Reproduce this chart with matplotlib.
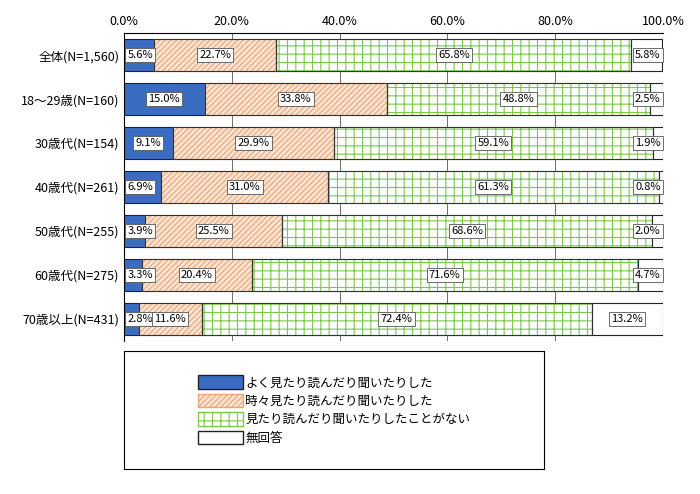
import matplotlib
matplotlib.use("Agg")
import matplotlib.pyplot as plt
from matplotlib.patches import Patch

plt.rcParams["font.family"] = ["Noto Sans CJK JP", "DejaVu Sans"]
plt.rcParams["hatch.linewidth"] = 0.8

groups = ["全体(N=1,560)", "18～29歳(N=160)", "30歳代(N=154)", "40歳代(N=261)",
          "50歳代(N=255)", "60歳代(N=275)", "70歳以上(N=431)"]
often = [5.6, 15.0, 9.1, 6.9, 3.9, 3.3, 2.8]
sometimes = [22.7, 33.8, 29.9, 31.0, 25.5, 20.4, 11.6]
never = [65.8, 48.8, 59.1, 61.3, 68.6, 71.6, 72.4]
no_answer = [5.8, 2.5, 1.9, 0.8, 2.0, 4.7, 13.2]
series_names = ["よく見たり読んだり聞いたりした", "時々見たり読んだり聞いたりした",
                "見たり読んだり聞いたりしたことがない", "無回答"]

styles = [
    dict(facecolor="#3a6cc4", edgecolor="#222222", hatch=None),
    dict(facecolor="#fbe3cf", edgecolor="#e8a67c", hatch="//////"),
    dict(facecolor="white", edgecolor="#7cc94a", hatch="++"),
    dict(facecolor="white", edgecolor="#222222", hatch=None),
]

fig = plt.figure(figsize=(7, 4.94), dpi=100)
ax = fig.add_axes([0.177, 0.31, 0.77, 0.623])

ys = list(range(len(groups)))
left = [0.0] * len(groups)
for vals, st in zip([often, sometimes, never, no_answer], styles):
    for i, v in enumerate(vals):
        ax.barh(i, v, left=left[i], height=0.72, facecolor=st["facecolor"],
                edgecolor=st["edgecolor"], hatch=st["hatch"], linewidth=0.8, zorder=2)
        if st["hatch"]:
            ax.barh(i, v, left=left[i], height=0.72, facecolor="none",
                    edgecolor="#333333", linewidth=0.8, zorder=3)
        cx = left[i] + v / 2
        if st is styles[0] and v < 8:
            cx = left[i] + 3.0
        if st is styles[3] and v < 8:
            cx = left[i] + v - 3.0 if v > 6 else 97.2
        ax.text(cx, i, f"{v:.1f}%", ha="center", va="center", fontsize=8, zorder=4,
                bbox=dict(boxstyle="square,pad=0.2", facecolor="white", edgecolor="#555555", linewidth=0.6))
        left[i] += v

ax.set_xlim(0, 100)
ax.set_ylim(len(groups) - 0.5, -0.5)
ax.set_yticks(ys)
ax.set_yticklabels(groups, fontsize=9)
ax.set_xticks(range(0, 101, 20))
ax.set_xticklabels([f"{t:.1f}%" for t in range(0, 101, 20)], fontsize=9)
ax.xaxis.tick_top()
ax.tick_params(length=0)
ax.grid(axis="x", color="#555555", linewidth=0.6, zorder=0)
for s in ["right", "bottom"]:
    ax.spines[s].set_visible(False)

handles = [Patch(facecolor=st["facecolor"], edgecolor=st["edgecolor"] if st["hatch"] else "#222222",
                 hatch=st["hatch"], label=n) for st, n in zip(styles, series_names)]
lax = fig.add_axes([0.177, 0.05, 0.6, 0.24])
lax.set_xticks([])
lax.set_yticks([])
for s in lax.spines.values():
    s.set_linewidth(0.8)
lax.legend(handles=handles, loc="center", frameon=False, fontsize=9,
           handlelength=3.6, handleheight=1.3, labelspacing=0.35, handletextpad=0.2,
           bbox_to_anchor=(0.5, 0.5))

fig.savefig("out.png", dpi=100)
